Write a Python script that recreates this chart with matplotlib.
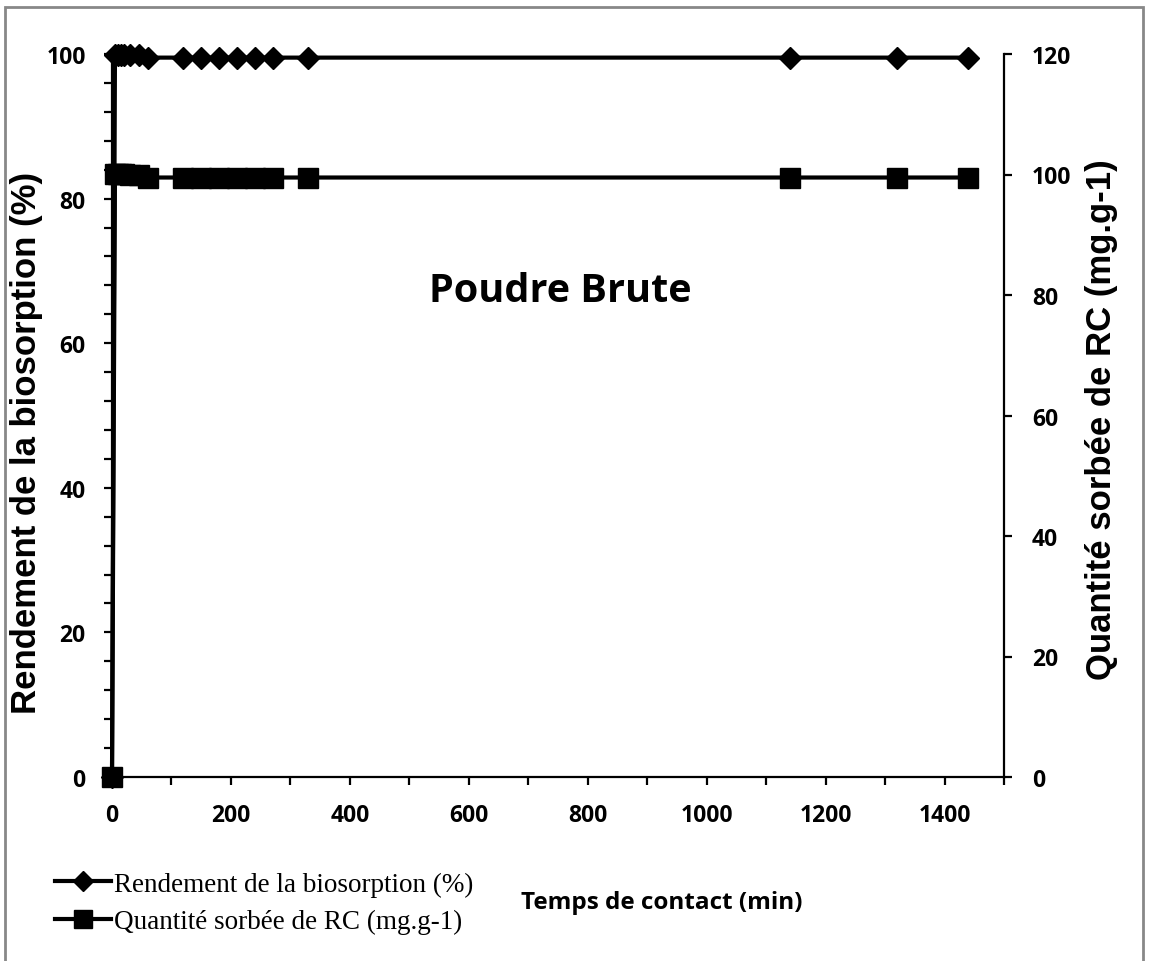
import matplotlib
matplotlib.use("Agg")
import matplotlib.pyplot as plt
from matplotlib.lines import Line2D
from matplotlib.patches import Rectangle
from matplotlib.ticker import MultipleLocator

# Contact time (min)
temps = [0, 5, 10, 15, 20, 30, 45, 60, 120, 150, 180, 210, 240, 270, 330, 1140, 1320, 1440]
# Biosorption yield (%)
rendement = [0, 99.9, 99.9, 99.9, 99.9, 99.8, 99.8, 99.5, 99.5, 99.5, 99.5, 99.5,
             99.5, 99.5, 99.5, 99.5, 99.5, 99.5]
# Amount of RC sorbed (mg/g)
quantite = [0, 100.1, 100.1, 100.1, 100.1, 100.0, 100.0, 99.5, 99.5, 99.5, 99.5, 99.5,
            99.5, 99.5, 99.5, 99.5, 99.5, 99.5]

x_ticks = [0, 200, 400, 600, 800, 1000, 1200, 1400]
left_ticks = [0, 20, 40, 60, 80, 100]
right_ticks = [0, 20, 40, 60, 80, 100, 120]

W, H, DPI = 1149, 962, 100
fig = plt.figure(figsize=(W / DPI, H / DPI), dpi=DPI)

left, right, bottom, top = 112, 1004, 778, 55
ax = fig.add_axes([left / W, 1 - bottom / H, (right - left) / W, (bottom - top) / H])
ax2 = ax.twinx()

tick_font = dict(family="Open Sans", weight="bold", size=16.5)
lw = 3.0

ax.plot(temps, rendement, color="black", lw=lw, marker="D", ms=11, clip_on=False, zorder=3)
ax2.plot(temps, quantite, color="black", lw=lw, marker="s", ms=14, clip_on=False, zorder=3)

ax.set_xlim(0, 1500)
ax.set_ylim(0, 100)
ax2.set_ylim(0, 120)

ax.set_xticks(x_ticks)
ax.xaxis.set_minor_locator(MultipleLocator(100))
ax.set_yticks(left_ticks)
ax.yaxis.set_minor_locator(MultipleLocator(4))
ax2.set_yticks(right_ticks)

for a in (ax, ax2):
    for sp in a.spines.values():
        sp.set_linewidth(1.6)
    a.spines["top"].set_visible(False)
    a.tick_params(which="both", direction="out", width=1.6, length=6, colors="black")
ax.tick_params(axis="x", which="major", pad=13)
ax.tick_params(axis="y", which="major", pad=13)
ax2.tick_params(axis="y", which="major", pad=14)

ax.spines["right"].set_visible(False)
ax2.spines["left"].set_visible(False)
ax2.spines["bottom"].set_visible(False)

ax.set_xticklabels([str(v) for v in x_ticks], fontdict=tick_font)
ax.set_yticklabels([str(v) for v in left_ticks], fontdict=tick_font)
ax2.set_yticklabels([str(v) for v in right_ticks], fontdict=tick_font)

label_font = dict(family="Liberation Sans", weight="bold", size=25)
fig.text(27 / W, 1 - 443 / H, "Rendement de la biosorption (%)", rotation=90,
         ha="center", va="center", **label_font)
fig.text(1102 / W, 1 - 420 / H, "Quantité sorbée de RC (mg.g-1)", rotation=90,
         ha="center", va="center", **label_font)

fig.text(560 / W, 1 - 292 / H, "Poudre Brute", ha="center", va="center",
         family="Open Sans", weight="bold", size=28.5)

fig.text(662 / W, 1 - 903 / H, "Temps de contact (min)", ha="center", va="center",
         family="Open Sans", weight="bold", size=17.5)

handles = [
    Line2D([], [], color="black", lw=lw, marker="D", ms=10),
    Line2D([], [], color="black", lw=lw, marker="s", ms=13),
]
labels = ["Rendement de la biosorption (%)", "Quantité sorbée de RC (mg.g-1)"]
fig.legend(handles, labels, loc="center left", bbox_to_anchor=(41 / W, 1 - 904 / H),
           frameon=False, prop=dict(family="Liberation Serif", size=19.5),
           handlelength=2.1, handletextpad=0.1, labelspacing=0.45, borderpad=0)

# outer chart-area frame
fig.add_artist(Rectangle((5 / W, -0.01), (1143 - 5) / W, 1 - 8 / H + 0.01,
                         transform=fig.transFigure, fill=False,
                         edgecolor="#888888", lw=2))

fig.savefig("out.png", dpi=DPI)
